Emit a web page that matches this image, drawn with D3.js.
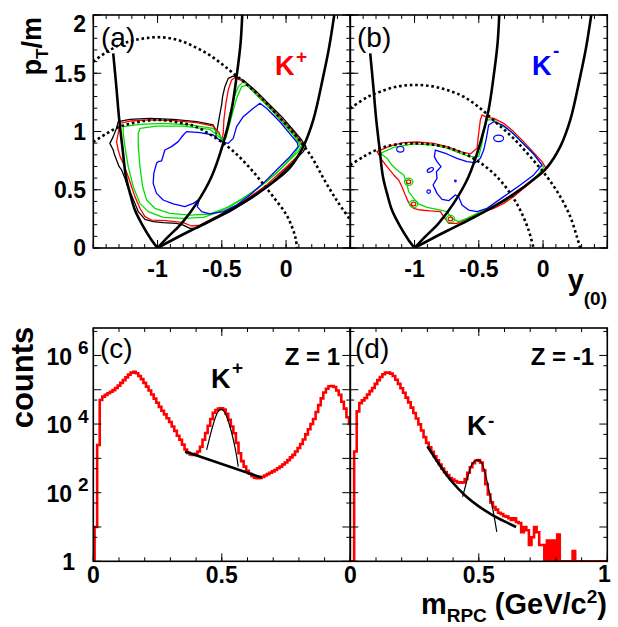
<!DOCTYPE html>
<html><head><meta charset="utf-8">
<script src="https://cdn.jsdelivr.net/npm/d3@7"></script>
<style>
body{margin:0;background:#fff}
svg{display:block}
text{font-family:"Liberation Sans",Arial,Helvetica,sans-serif}
</style>
</head><body>
<svg id="chart" width="618" height="627"></svg>
<script>
// ================= DATA =================
// axis domains
const rapRange = [-1.5, 0.5];      // y_(0)
const ptRange = [0, 2];            // pT/m
const massRange = [0, 1];          // m_RPC
const countRange = [1, 6.3e6];     // counts (log)

// tick labels
const topXTicks = [-1, -0.5, 0];
const topXTickLabels = ["-1", "-0.5", "0"];
const topYTicks = [0, 0.5, 1, 1.5, 2];
const topYTickLabels = ["0", "0.5", "1", "1.5", "2"];
const botXTicksC = [0, 0.5];
const botXTickLabelsC = ["0", "0.5"];
const botXTicksD = [0, 0.5, 1];
const botXTickLabelsD = ["0", "0.5", "1"];
const botYDecades = [0, 2, 4, 6];

// constant polar-angle lines (same in a and b): [y0, pT/m]
const thetaLeft = [[-1.345,1.671],[-1.322,1.40],[-1.298,1.099],[-1.272,0.85],[-1.246,0.612],[-1.212,0.46],[-1.176,0.326],[-1.111,0.183],[-1.047,0.069],[-1.0,0]];
const thetaMid = [[-0.341,2.0],[-0.354,1.757],[-0.385,1.471],[-0.424,1.185],[-0.489,0.898],[-0.580,0.612],[-0.696,0.383],[-0.813,0.212],[-0.917,0.097],[-1.0,0]];
const thetaRight = [[0.375,2.0],[0.336,1.728],[0.289,1.471],[0.212,1.099],[0.134,0.870],[0.030,0.690],[-0.074,0.588],[-0.229,0.462],[-0.385,0.355],[-0.541,0.262],[-0.696,0.175],[-0.852,0.088],[-1.0,0]];

// constant momentum (dotted) lines
const dotOuterA = [[-1.5,1.60],[-1.4,1.68],[-1.3,1.74],[-1.2,1.78],[-1.1,1.80],[-1.0,1.81],[-0.9,1.80],[-0.8,1.77],[-0.7,1.72],[-0.6,1.66],[-0.5,1.58],[-0.4,1.49],[-0.3,1.40],[-0.2,1.30],[-0.1,1.18],[0.0,1.06],[0.1,0.93],[0.2,0.78],[0.3,0.58],[0.4,0.40],[0.5,0.24]];
const dotInnerA = [[-1.5,0.91],[-1.4,0.98],[-1.3,1.04],[-1.2,1.07],[-1.1,1.09],[-1.0,1.10],[-0.9,1.09],[-0.8,1.07],[-0.7,1.04],[-0.6,0.98],[-0.5,0.91],[-0.4,0.82],[-0.3,0.71],[-0.2,0.58],[-0.1,0.44],[0.0,0.29],[0.05,0.17],[0.075,0.08],[0.085,0]];
const dotOuterB = [[-1.5,1.199],[-1.371,1.293],[-1.267,1.342],[-1.137,1.385],[-1.008,1.399],[-0.878,1.391],[-0.748,1.356],[-0.618,1.299],[-0.489,1.199],[-0.359,1.070],[-0.229,0.941],[-0.100,0.784],[0.030,0.612],[0.134,0.441],[0.212,0.269],[0.263,0.097],[0.289,0]];
const dotInnerB = [[-1.5,0.712],[-1.396,0.784],[-1.267,0.855],[-1.137,0.890],[-1.008,0.898],[-0.878,0.890],[-0.748,0.864],[-0.618,0.813],[-0.489,0.732],[-0.359,0.612],[-0.255,0.469],[-0.178,0.326],[-0.113,0.155],[-0.074,0]];

// acceptance contours, K+ (a)
const contBlackA = [[-1.306,1.084],[-1.215,1.104],[-1.060,1.113],[-0.878,1.104],[-0.696,1.084],[-0.567,1.056],[-0.546,0.999],[-0.545,0.956],[-0.528,1.070],[-0.520,1.12],[-0.509,1.185],[-0.500,1.24],[-0.494,1.299],[-0.476,1.385],[-0.450,1.456],[-0.411,1.476],[-0.333,1.442],[-0.229,1.342],[-0.126,1.227],[-0.022,1.113],[0.056,1.013],[0.121,0.927],[0.155,0.870],[0.134,0.827],[0.082,0.770],[0.004,0.684],[-0.074,0.598],[-0.152,0.526],[-0.229,0.455],[-0.333,0.383],[-0.437,0.312],[-0.541,0.255],[-0.644,0.197],[-0.696,0.169],[-0.748,0.169],[-0.800,0.197],[-0.852,0.212],[-0.956,0.217],[-1.034,0.226],[-1.098,0.246],[-1.150,0.312],[-1.176,0.383],[-1.215,0.484],[-1.240,0.55],[-1.254,0.598],[-1.280,0.670],[-1.300,0.70],[-1.319,0.755],[-1.335,0.80],[-1.345,0.841],[-1.371,0.898],[-1.345,0.956],[-1.319,1.027]];
const contRedA = [[-1.293,1.070],[-1.215,1.090],[-1.060,1.099],[-0.878,1.093],[-0.696,1.076],[-0.567,1.047],[-0.521,0.990],[-0.502,0.921],[-0.489,0.984],[-0.484,1.099],[-0.468,1.242],[-0.450,1.356],[-0.424,1.442],[-0.398,1.462],[-0.328,1.428],[-0.126,1.213],[0.056,0.999],[0.134,0.884],[0.113,0.813],[0.004,0.698],[-0.152,0.541],[-0.333,0.398],[-0.541,0.269],[-0.670,0.197],[-0.735,0.189],[-0.800,0.217],[-0.930,0.235],[-1.047,0.240],[-1.098,0.269],[-1.137,0.341],[-1.176,0.441],[-1.200,0.52],[-1.228,0.612],[-1.245,0.66],[-1.267,0.727],[-1.290,0.78],[-1.306,0.841],[-1.319,0.913],[-1.306,0.984]];
const contGreenA1 = [[-1.267,1.042],[-1.137,1.062],[-0.956,1.070],[-0.748,1.056],[-0.567,1.027],[-0.509,0.956],[-0.489,0.913],[-0.463,0.984],[-0.443,1.127],[-0.411,1.270],[-0.372,1.385],[-0.333,1.428],[-0.126,1.199],[0.056,0.984],[0.121,0.884],[0.095,0.827],[0.004,0.727],[-0.152,0.569],[-0.333,0.426],[-0.515,0.312],[-0.644,0.263],[-0.800,0.255],[-0.956,0.263],[-1.073,0.312],[-1.137,0.383],[-1.189,0.526],[-1.228,0.698],[-1.254,0.870],[-1.267,0.984]];
const contGreenA2 = [[-1.137,1.027],[-1.008,1.047],[-0.800,1.047],[-0.593,1.019],[-0.509,0.941],[-0.468,0.941],[-0.424,1.127],[-0.385,1.285],[-0.346,1.385],[-0.307,1.399],[-0.113,1.185],[0.056,0.970],[0.108,0.884],[0.069,0.813],[-0.074,0.641],[-0.255,0.484],[-0.437,0.355],[-0.593,0.292],[-0.748,0.283],[-0.904,0.298],[-1.021,0.341],[-1.085,0.412],[-1.116,0.526],[-1.137,0.698],[-1.150,0.870],[-1.150,0.984]];
const contBlueA = [[-0.774,0.999],[-0.670,0.990],[-0.567,0.970],[-0.502,0.913],[-0.450,0.898],[-0.411,0.941],[-0.385,1.042],[-0.333,1.127],[-0.255,1.199],[-0.203,1.242],[-0.152,1.199],[-0.048,1.084],[0.030,0.979],[0.087,0.904],[0.095,0.870],[0.030,0.784],[-0.074,0.670],[-0.178,0.555],[-0.281,0.455],[-0.385,0.369],[-0.489,0.312],[-0.593,0.292],[-0.657,0.312],[-0.691,0.355],[-0.675,0.418],[-0.722,0.383],[-0.787,0.355],[-0.878,0.378],[-0.956,0.412],[-1.008,0.469],[-1.034,0.555],[-1.029,0.641],[-1.008,0.727],[-0.995,0.741],[-0.969,0.747],[-0.943,0.841],[-0.891,0.870],[-0.839,0.913],[-0.800,0.970]];

// acceptance contours, K- (b)
const contRedB = [[-1.292,0.827],[-1.188,0.876],[-1.085,0.904],[-0.981,0.910],[-0.851,0.898],[-0.747,0.870],[-0.644,0.827],[-0.566,0.807],[-0.514,0.856],[-0.501,0.984],[-0.488,1.099],[-0.475,1.142],[-0.436,1.122],[-0.384,1.113],[-0.306,1.070],[-0.229,0.999],[-0.151,0.913],[-0.073,0.818],[-0.008,0.741],[0.023,0.684],[-0.008,0.641],[-0.073,0.584],[-0.151,0.512],[-0.229,0.441],[-0.306,0.383],[-0.384,0.340],[-0.462,0.312],[-0.540,0.275],[-0.605,0.246],[-0.670,0.212],[-0.734,0.212],[-0.773,0.269],[-0.799,0.312],[-0.877,0.318],[-0.955,0.326],[-1.007,0.340],[-1.046,0.389],[-1.072,0.455],[-1.098,0.526],[-1.124,0.584],[-1.162,0.627],[-1.214,0.698],[-1.253,0.755]];
const contGreenB = [[-1.266,0.813],[-1.162,0.864],[-1.007,0.893],[-0.851,0.884],[-0.747,0.858],[-0.644,0.813],[-0.566,0.784],[-0.501,0.784],[-0.475,0.898],[-0.457,1.042],[-0.436,1.099],[-0.384,1.099],[-0.229,0.984],[-0.073,0.807],[0.005,0.692],[-0.034,0.635],[-0.151,0.521],[-0.306,0.398],[-0.462,0.326],[-0.592,0.255],[-0.657,0.226],[-0.709,0.255],[-0.747,0.312],[-0.825,0.332],[-0.903,0.349],[-0.968,0.378],[-1.007,0.426],[-1.046,0.484],[-1.064,0.569],[-1.085,0.627],[-1.137,0.670],[-1.176,0.712],[-1.214,0.770]];
const contBlueB = [[-0.838,0.841],[-0.747,0.807],[-0.670,0.770],[-0.592,0.741],[-0.527,0.732],[-0.488,0.770],[-0.462,0.841],[-0.441,0.941],[-0.423,1.056],[-0.384,1.084],[-0.306,1.050],[-0.229,0.979],[-0.151,0.893],[-0.073,0.807],[-0.008,0.712],[-0.073,0.627],[-0.177,0.541],[-0.306,0.441],[-0.436,0.340],[-0.514,0.312],[-0.579,0.326],[-0.631,0.369],[-0.657,0.441],[-0.683,0.455],[-0.734,0.406],[-0.786,0.418],[-0.825,0.469],[-0.856,0.541],[-0.825,0.598],[-0.830,0.655],[-0.794,0.698],[-0.825,0.741],[-0.846,0.784]];
const blueIslandsB = [[-1.111,0.847],[-0.877,0.670],[-0.890,0.484],[-0.346,0.941],[-0.682,0.575]];
const redIslandsB = [[-1.046,0.569],[-1.007,0.378],[-0.721,0.249]];

// m_RPC histograms: 10 MeV bins starting at 0.005 GeV/c^2
const binLow = 0.005, binWidth = 0.01;
const countsZpos = [10,2450,50100,63100,70800,79400,87100,97700,112000,132000,
158000,191000,229000,275000,316000,331000,302000,251000,204000,158000,
123000,95500,72400,55000,41700,31600,24500,19100,14800,11500,
8510,6310,4570,3470,2510,1820,1450,1290,1260,1350,
1580,2190,3470,5500,8910,14100,21400,25700,28200,28800,
26300,20000,13200,8510,5370,2820,1410,832,575,437,
355,309,275,263,269,288,316,347,380,417,
457,513,575,661,759,891,1070,1260,1580,2000,
2630,3550,5010,7080,10000,14100,22400,35500,56200,83200,
107000,126000,129000,120000,95500,70800,44700,28200,15800,10000];
const countsZneg = [0,1580,23400,40700,49000,57500,72400,91200,112000,148000,
191000,234000,282000,316000,316000,295000,251000,195000,148000,110000,
81300,58900,42700,30200,20900,14500,9770,6460,4170,2820,
2090,1550,1150,871,661,501,398,324,269,240,
219,200,195,200,251,380,550,724,851,891,
759,447,178,89,52,38,32,26,24,21,
20,18,16,18,14,13,7,10,8,3,
5,10,7,3,3,1,4,1,4,0,
6,0,0,0,0,0,2,0,0,0,
0,0,0,0,0,0,0,0,0,0];

// fits [m, counts]
const bgFitC = [[0.357,1580],[0.655,275]];
const sigFitC = [[0.441,1760],[0.457,5370],[0.474,14800],[0.487,24000],[0.500,26900],[0.512,21400],[0.532,8320],[0.545,3470],[0.558,1120],[0.564,575]];
const bgFitD = [[0.30,2240],[0.35,603],[0.40,191],[0.45,79],[0.50,40],[0.55,23],[0.60,14.5],[0.645,10]];
const sigFitD = [[0.437,76],[0.45,178],[0.46,355],[0.47,603],[0.48,794],[0.49,891],[0.50,891],[0.51,759],[0.52,501],[0.53,251],[0.54,112],[0.55,50],[0.56,20],[0.57,7.2]];

// ================= LAYOUT / STYLE =================
const RED = "#ff0000", BLUE = "#0000ff", GREEN = "#00e000";
const colX = [[93.3, 350.3], [350.3, 607.3]];
const topY = [248, 15], botY = [561.3, 328];

const svg = d3.select("#chart");
const defs = svg.append("defs");

const yTop = d3.scaleLinear().domain(ptRange).range(topY);
const xTop = colX.map(r => d3.scaleLinear().domain(rapRange).range(r));
const xBot = colX.map(r => d3.scaleLinear().domain(massRange).range(r));
const yBot = d3.scaleLog().domain(countRange).range(botY);

function clipFor(id, x0, x1, y0, y1) {
  defs.append("clipPath").attr("id", id).append("rect")
    .attr("x", x0).attr("y", y1).attr("width", x1 - x0).attr("height", y0 - y1);
  return svg.append("g").attr("clip-path", `url(#${id})`);
}

// ---------- top panels ----------
function drawTop(i, contours, dotted, islandsBlue, islandsRed) {
  const xs = xTop[i];
  const g = clipFor("clipTop" + i, colX[i][0], colX[i][1], topY[0], topY[1]);
  const line = d3.line().x(d => xs(d[0])).y(d => yTop(d[1]));
  const closed = d3.line().x(d => xs(d[0])).y(d => yTop(d[1])).curve(d3.curveLinearClosed);
  contours.forEach(c => {
    g.append("path").attr("d", closed(c.pts)).attr("fill", "none")
      .attr("stroke", c.color).attr("stroke-width", 1.3).attr("stroke-linejoin", "round");
  });
  if (islandsRed) islandsRed.forEach(p => {
    g.append("ellipse").attr("cx", xs(p[0])).attr("cy", yTop(p[1])).attr("rx", 4.2).attr("ry", 3.6)
      .attr("fill", "none").attr("stroke", GREEN).attr("stroke-width", 1.2);
    g.append("ellipse").attr("cx", xs(p[0])).attr("cy", yTop(p[1])).attr("rx", 2.2).attr("ry", 1.9)
      .attr("fill", "none").attr("stroke", RED).attr("stroke-width", 1.2);
  });
  if (islandsBlue) {
    const sz = [[3.6,2.8],[3.4,1.8],[1.8,1.8],[5,3.2],[0.8,0.8]];
    islandsBlue.forEach((p, k) => {
      g.append("ellipse").attr("cx", xs(p[0])).attr("cy", yTop(p[1])).attr("rx", sz[k][0]).attr("ry", sz[k][1])
        .attr("fill", "none").attr("stroke", BLUE).attr("stroke-width", 1.2)
        .attr("transform", k === 1 ? `rotate(-30 ${xs(p[0])} ${yTop(p[1])})` : null);
    });
  }
  dotted.forEach(d => {
    g.append("path").attr("d", line.curve(d3.curveCatmullRom)(d)).attr("fill", "none")
      .attr("stroke", "#000").attr("stroke-width", 2.6).attr("stroke-dasharray", "2.6,2.8");
  });
  [thetaLeft, thetaMid, thetaRight].forEach(t => {
    g.append("path").attr("d", line.curve(d3.curveCatmullRom)(t)).attr("fill", "none")
      .attr("stroke", "#000").attr("stroke-width", 2.6);
  });
}
drawTop(0, [
  {pts: contBlackA, color: "#000"}, {pts: contRedA, color: RED},
  {pts: contGreenA1, color: GREEN}, {pts: contGreenA2, color: GREEN}, {pts: contBlueA, color: BLUE}
], [dotOuterA, dotInnerA]);
drawTop(1, [
  {pts: contRedB, color: RED}, {pts: contGreenB, color: GREEN}, {pts: contBlueB, color: BLUE}
], [dotOuterB, dotInnerB], blueIslandsB, redIslandsB);

// ---------- bottom panels ----------
function drawBot(i, counts, bg, sig) {
  const xs = xBot[i];
  const g = clipFor("clipBot" + i, colX[i][0], colX[i][1], botY[0], botY[1]);
  const bottom = botY[0];
  const pts = [];
  counts.forEach((c, k) => {
    const x0 = xs(binLow + k * binWidth), x1 = xs(binLow + (k + 1) * binWidth);
    const y = c >= 1 ? yBot(c) : bottom;
    if (k === 0) pts.push([x0, bottom + 2]);
    pts.push([x0, y], [x1, y]);
  });
  g.append("path").attr("d", d3.line()(pts)).attr("fill", "none")
    .attr("stroke", RED).attr("stroke-width", 2.6).attr("stroke-linejoin", "miter");
  const fl = d3.line().x(d => xs(d[0])).y(d => yBot(d[1])).curve(d3.curveMonotoneX);
  g.append("path").attr("d", fl(sig)).attr("fill", "none").attr("stroke", "#000").attr("stroke-width", 1.2);
  g.append("path").attr("d", fl(bg)).attr("fill", "none").attr("stroke", "#000").attr("stroke-width", 2.6);
}
drawBot(0, countsZpos, bgFitC, sigFitC);
drawBot(1, countsZneg, bgFitD, sigFitD);

// ---------- frames and ticks ----------
const ax = svg.append("g").attr("stroke", "#000").attr("stroke-width", 1);
function vTicks(xs, vals, len, yb, yt) {
  vals.forEach(v => {
    const x = xs(v);
    ax.append("line").attr("x1", x).attr("x2", x).attr("y1", yb).attr("y2", yb - len);
    ax.append("line").attr("x1", x).attr("x2", x).attr("y1", yt).attr("y2", yt + len);
  });
}
function hTicks(ys, vals, len, xl, xr) {
  vals.forEach(v => {
    const y = ys(v);
    ax.append("line").attr("x1", xl).attr("x2", xl + len).attr("y1", y).attr("y2", y);
    ax.append("line").attr("x1", xr).attr("x2", xr - len).attr("y1", y).attr("y2", y);
  });
}
const topMinorX = d3.range(-15, 6).map(d => d / 10);
const topMajorX = [-1.5, -1, -0.5, 0, 0.5];
const topMinorY = d3.range(0, 21).map(d => d / 10);
const botMinorX = d3.range(0, 11).map(d => d / 10);
const botMajorX = [0, 0.5, 1];
const decadeTicks = d3.range(0, 7).map(d => Math.pow(10, d));
const halfTicks = d3.range(0, 7).map(d => 5 * Math.pow(10, d));
for (let i = 0; i < 2; i++) {
  vTicks(xTop[i], topMinorX, 4, topY[0], topY[1]);
  vTicks(xTop[i], topMajorX, 8, topY[0], topY[1]);
  hTicks(yTop, topMinorY, 4, colX[i][0], colX[i][1]);
  hTicks(yTop, topYTicks, 8, colX[i][0], colX[i][1]);
  vTicks(xBot[i], botMinorX, 4, botY[0], botY[1]);
  vTicks(xBot[i], botMajorX, 8, botY[0], botY[1]);
  hTicks(yBot, halfTicks, 4, colX[i][0], colX[i][1]);
  hTicks(yBot, decadeTicks, 8, colX[i][0], colX[i][1]);
  svg.append("rect").attr("x", colX[i][0]).attr("y", topY[1]).attr("width", colX[i][1] - colX[i][0])
    .attr("height", topY[0] - topY[1]).attr("fill", "none").attr("stroke", "#000").attr("stroke-width", 1.6);
  svg.append("rect").attr("x", colX[i][0]).attr("y", botY[1]).attr("width", colX[i][1] - colX[i][0])
    .attr("height", botY[0] - botY[1]).attr("fill", "none").attr("stroke", "#000").attr("stroke-width", 1.6);
}

// ---------- tick labels ----------
const lab = svg.append("g").attr("font-weight", "bold").attr("font-size", 23).attr("fill", "#000");
topYTicks.forEach((v, k) => {
  lab.append("text").attr("x", 86).attr("y", Math.max(yTop(v), 23.5)).attr("dy", "0.36em")
    .attr("text-anchor", "end").text(topYTickLabels[k]);
});
for (let i = 0; i < 2; i++) {
  topXTicks.forEach((v, k) => {
    lab.append("text").attr("x", xTop[i](v)).attr("y", 277).attr("text-anchor", "middle").text(topXTickLabels[k]);
  });
}
botXTicksC.forEach((v, k) => {
  lab.append("text").attr("x", xBot[0](v)).attr("y", 583).attr("text-anchor", "middle").text(botXTickLabelsC[k]);
});
botXTicksD.forEach((v, k) => {
  lab.append("text").attr("x", xBot[1](v) - (v === 1 ? 3 : 0)).attr("y", v === 1 ? 581.5 : 583).attr("text-anchor", "middle").text(botXTickLabelsD[k]);
});
botYDecades.forEach(e => {
  const y = yBot(Math.pow(10, e));
  if (e === 0) {
    lab.append("text").attr("x", 75).attr("y", y).attr("dy", "0.36em").attr("text-anchor", "end").text("1");
  } else {
    lab.append("text").attr("x", 72).attr("y", y + 1).attr("dy", "0.36em").attr("text-anchor", "end").text("10");
    lab.append("text").attr("x", 78).attr("y", y - 1.5).attr("font-size", 19).text(String(e));
  }
});

// ---------- axis titles ----------
const tt = svg.append("g").attr("font-weight", "bold").attr("fill", "#000");
const pt = tt.append("text").attr("transform", "translate(41,17) rotate(-90)").attr("text-anchor", "end").attr("font-size", 27);
pt.append("tspan").text("p");
pt.append("tspan").attr("font-size", 17).attr("dy", 7).text("T");
pt.append("tspan").attr("dy", -7).text("/m");
tt.append("text").attr("transform", "translate(33,377.5) rotate(-90)").attr("text-anchor", "middle")
  .attr("font-size", 31).text("counts");
const yt = tt.append("text").attr("x", 607).attr("y", 290).attr("text-anchor", "end").attr("font-size", 29);
yt.append("tspan").text("y");
yt.append("tspan").attr("font-size", 19).attr("dy", 15).text("(0)");
const mt = tt.append("text").attr("x", 607).attr("y", 614).attr("text-anchor", "end").attr("font-size", 29);
mt.append("tspan").text("m");
mt.append("tspan").attr("font-size", 19).attr("dy", 8).text("RPC");
mt.append("tspan").attr("dy", -8).text(" (GeV/c");
mt.append("tspan").attr("font-size", 19).attr("dy", -11).text("2");
mt.append("tspan").attr("dy", 11).text(")");

// ---------- panel annotations ----------
const ann = svg.append("g");
[["(a)", 101, 47], ["(b)", 357, 47], ["(c)", 100, 358], ["(d)", 355, 358]].forEach(a => {
  ann.append("text").attr("x", a[1]).attr("y", a[2]).attr("font-size", 28).attr("fill", "#000").text(a[0]);
});
function kLabel(x, y, sign, color, sy) {
  ann.append("text").attr("x", x).attr("y", y).attr("font-size", 27).attr("font-weight", "bold").attr("fill", color).text("K");
  ann.append("text").attr("x", x + 21).attr("y", sy).attr("font-size", 19).attr("font-weight", "bold").attr("fill", color).text(sign);
}
kLabel(275, 75, "+", RED, 63);
kLabel(532, 75, "-", BLUE, 57);
kLabel(211, 388, "+", "#000", 374);
kLabel(467, 435, "-", "#000", 427);
ann.append("text").attr("x", 340).attr("y", 365).attr("text-anchor", "end").attr("font-size", 24).attr("font-weight", "bold").text("Z = 1");
ann.append("text").attr("x", 594).attr("y", 365).attr("text-anchor", "end").attr("font-size", 24).attr("font-weight", "bold").text("Z = -1");
</script>
</body></html>
